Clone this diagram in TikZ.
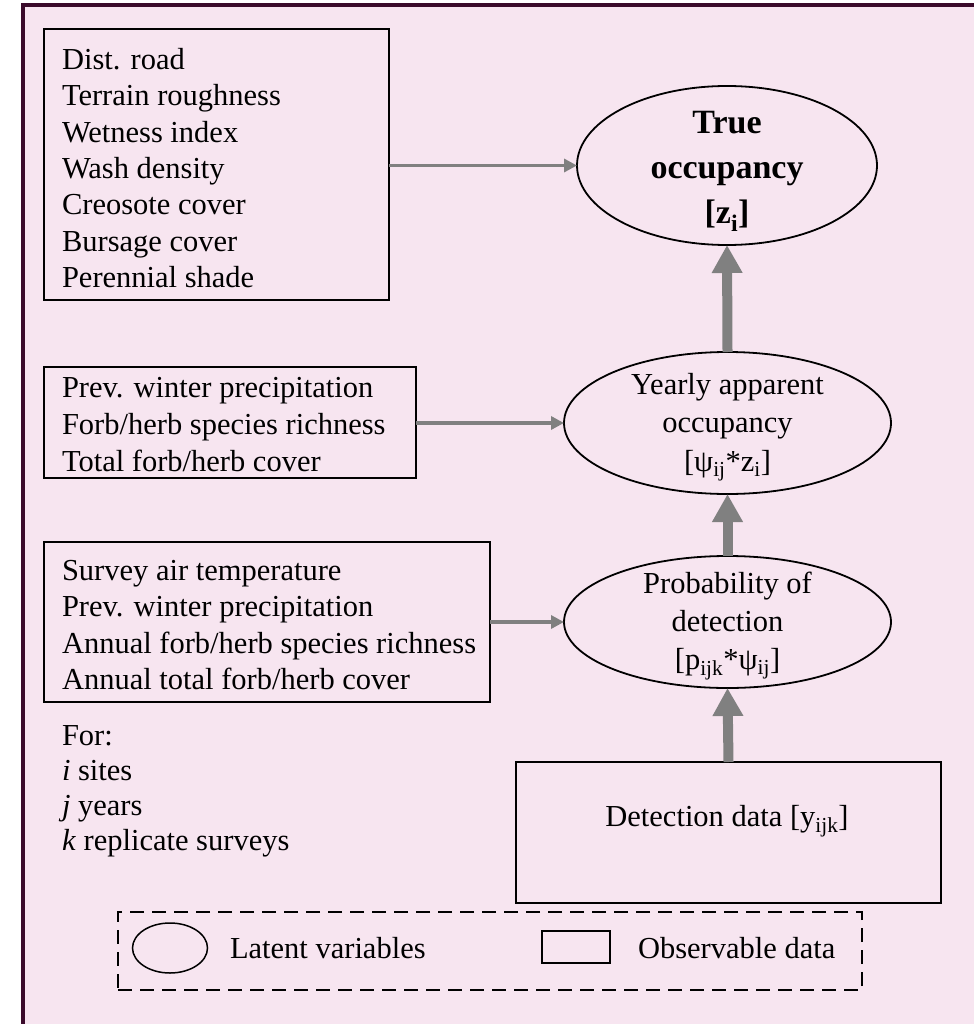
\documentclass[tikz,border=0pt]{standalone}
\usepackage{fontspec}
\setmainfont{Liberation Serif}
\usetikzlibrary{shapes.geometric,arrows.meta}
\definecolor{bgpink}{HTML}{F7E5F0}
\definecolor{framec}{HTML}{3B0B2B}
\definecolor{arrgray}{HTML}{808080}
\begin{document}
\begin{tikzpicture}[x=1pt,y=-1pt,
  every node/.style={font=\fontsize{30.5}{37}\selectfont, inner sep=0pt, outer sep=0pt},
  latent/.style={draw, ellipse, line width=1.8pt},
  obsbox/.style={draw, rectangle, line width=1.5pt},
  boxtext/.style={anchor=west, align=left},
  bigarrow/.style={draw=arrgray, color=arrgray, line width=10pt, -{Triangle[length=28pt,width=29pt]}},
  smallarrow/.style={draw=arrgray, color=arrgray, line width=3.5pt, -{Triangle[length=13pt,width=13pt]}}]
\useasboundingbox (0,0) rectangle (974,1024);
\fill[bgpink] (21,3) rectangle (974,1024);
\draw[framec, line width=4pt] (23,1024) -- (23,5) -- (974,5);

% latent variables
\node[latent, minimum width=300pt, minimum height=159pt] (tocc) at (727,165.5) {};
\node[align=center, font=\bfseries\fontsize{34}{45}\selectfont] (toccT) at (727,171) {True\\occupancy\\{[}z\textsubscript{i}{]}};
\node[latent, minimum width=327pt, minimum height=142pt] (yocc) at (727.5,423) {};
\node[align=center, font=\fontsize{30.5}{38.5}\selectfont] (yoccT) at (727.5,427) {Yearly apparent\\occupancy\\{[}ψ\textsubscript{ij}*z\textsubscript{i}{]}};
\node[latent, minimum width=327pt, minimum height=132pt] (pdet) at (727.5,622) {};
\node[align=center, font=\fontsize{30.5}{38}\selectfont] (pdetT) at (727.5,626) {Probability of\\detection\\{[}p\textsubscript{ijk}*ψ\textsubscript{ij}{]}};

% observable data
\node[obsbox, minimum width=345pt, minimum height=271pt] (b1) at (216.5,164.5) {};
\node[boxtext, font=\fontsize{30.5}{36.3}\selectfont] (b1T) at (62,168) {Dist. road\\Terrain roughness\\Wetness index\\Wash density\\Creosote cover\\Bursage cover\\Perennial shade};
\node[obsbox, minimum width=372pt, minimum height=111pt] (b2) at (230,422.5) {};
\node[boxtext, font=\fontsize{30.5}{37}\selectfont] (b2T) at (62,425) {Prev. winter precipitation\\Forb/herb species richness\\Total forb/herb cover};
\node[obsbox, minimum width=446pt, minimum height=160pt] (b3) at (267,622) {};
\node[boxtext, font=\fontsize{30.5}{36.5}\selectfont] (b3T) at (62,625) {Survey air temperature\\Prev. winter precipitation\\Annual forb/herb species richness\\Annual total forb/herb cover};
\node[obsbox, minimum width=425pt, minimum height=141pt] (det) at (728.5,832.5) {};
\node (detT) at (727,821) {Detection data {[}y\textsubscript{ijk}{]}};

% index note
\node[boxtext, font=\fontsize{30.5}{35}\selectfont] (note) at (62,791) {For:\\\textit{i} sites\\\textit{j} years\\\textit{k} replicate surveys};

% connectors
\draw[smallarrow] (b1.east |- tocc.west) -- (tocc.west);
\draw[smallarrow] (b2.east |- yocc.west) -- (yocc.west);
\draw[smallarrow] (b3.east |- pdet.west) -- (pdet.west);
\draw[bigarrow] (det.north) -- (pdet.south);
\draw[bigarrow] (pdet.north) -- (yocc.south);
\draw[bigarrow] (yocc.north) -- (tocc.south);

% legend
\node[draw, dash pattern=on 14pt off 8pt, line width=1.5pt, minimum width=744pt, minimum height=78pt] (leg) at (490,951) {};
\node[draw, ellipse, line width=1.5pt, minimum width=75pt, minimum height=50pt] (legE) at (170,948) {};
\node[anchor=west] (legET) at (230,948) {Latent variables};
\node[draw, rectangle, line width=1.5pt, minimum width=68pt, minimum height=32pt] (legR) at (576,947) {};
\node[anchor=west] (legRT) at (638,948) {Observable data};
\end{tikzpicture}
\end{document}
